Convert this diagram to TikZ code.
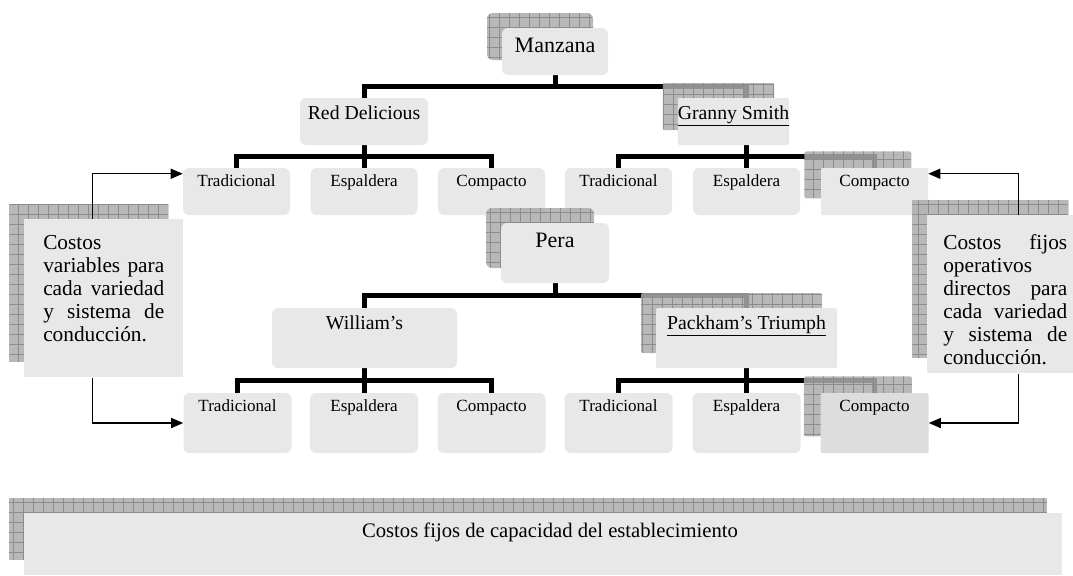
\documentclass[tikz,border=0pt]{standalone}
\usepackage{fontspec}
\setmainfont{Liberation Serif}
\usetikzlibrary{positioning, calc, shadows, arrows.meta, backgrounds}

\definecolor{boxfill}{RGB}{232,232,232}
\definecolor{boxdark}{RGB}{221,221,221}
\definecolor{shadefill}{RGB}{172,172,172}
\definecolor{shadegrid}{RGB}{140,140,140}

\begin{document}
\begin{tikzpicture}[x=0.75pt, y=-0.75pt,
	box/.style={rectangle, rounded corners=4.5pt, fill=boxfill, inner sep=0pt},
	dropshade/.style={general shadow={shadow xshift=-#1, shadow yshift=#1, fill=shadefill, fill opacity=0.85,
		path picture={\draw[shadegrid, line width=0.5pt, step=7.5pt] (path picture bounding box.south west) grid (path picture bounding box.north east);}}},
	dropshade/.default=11.25pt,
	fruit/.style={box, text height=18pt, font=\fontsize{16.5}{19}\selectfont},
	variety/.style={box, text height=15.75pt, font=\fontsize{14.8}{17}\selectfont},
	leaf/.style={box, minimum width=80.25pt, text height=13.5pt, text depth=21.75pt, font=\fontsize{12.8}{15}\selectfont},
	tallleaf/.style={leaf, minimum width=81pt, text depth=31.5pt},
	costos/.style={rectangle, fill=boxfill, dropshade, inner sep=0pt, align=left, anchor=north west, font=\fontsize{16}{17.25}\selectfont},
	tree/.style={line width=3.75pt},
	arr/.style={-{Triangle[length=9pt, width=7.5pt]}, line width=1.1pt}]
	\useasboundingbox (0,0) rectangle (1073,575);

	% Manzana
	\node[fruit, dropshade, minimum width=79.5pt, text depth=17.25pt] (manzana) at (555,51.5) {Manzana};
	\node[variety, minimum width=96pt, text depth=19.5pt] (reddel) at (364,121.5) {Red Delicious};
	\node[variety, dropshade, rounded corners=1pt, minimum width=72.75pt, text depth=19.5pt] (granny) at (733.5,121.5) {\underline{Granny Smith}};
	\node[leaf] (trad1) at (236.5,191.5) {Tradicional};
	\node[leaf] (esp1) at (364,191.5) {Espaldera};
	\node[leaf] (comp1) at (491.5,191.5) {Compacto};
	\node[leaf] (trad1b) at (618.5,191.5) {Tradicional};
	\node[leaf] (esp1b) at (746.5,191.5) {Espaldera};
	\node[leaf, dropshade=12.4pt, rounded corners=1pt] (comp1b) at (874.5,191.5) {Compacto};

	% Pera
	\node[fruit, dropshade, minimum width=81pt, text depth=27pt] (pera) at (555,253) {Pera};
	\node[variety, minimum width=138.75pt, text depth=29.25pt] (william) at (364.5,338) {William’s};
	\node[variety, dropshade, rounded corners=1pt, minimum width=135.75pt, text depth=29.25pt] (packham) at (746.5,338) {\underline{Packham’s Triumph}};
	\node[tallleaf] (trad2) at (237.5,423) {Tradicional};
	\node[tallleaf] (esp2) at (364,423) {Espaldera};
	\node[tallleaf] (comp2) at (491.5,423) {Compacto};
	\node[tallleaf] (trad2b) at (618.5,423) {Tradicional};
	\node[tallleaf] (esp2b) at (746.5,423) {Espaldera};
	\node[tallleaf, fill=boxdark, dropshade=12.4pt, rounded corners=1pt] (comp2b) at (874.5,423) {Compacto};

	% costos
	\node[costos, inner xsep=14.25pt, text width=90.75pt, text height=22.5pt, text depth=96pt] (costosvar) at (24,219)
		{Costos\\ variables \hfill para\\ cada \hfill variedad\\ y \hfill sistema \hfill de\\ conducción.};
	\node[costos, inner xsep=12pt, text width=93pt, text height=25.5pt, text depth=93pt] (costosfijos) at (927,215)
		{Costos \hfill fijos\\ operativos\\ directos \hfill para\\ cada \hfill variedad\\ y \hfill sistema \hfill de\\ conducción.};
	\node[rectangle, fill=boxfill, dropshade, inner sep=0pt, minimum width=778.5pt, text height=18pt, text depth=28.5pt,
		font=\fontsize{15.5}{17}\selectfont] (capacidad) at (543,544) {\hspace*{10.5pt}Costos fijos de capacidad del establecimiento};

	\begin{scope}[on background layer]
		\foreach \kid/\col in {reddel/esp1, granny/esp1b}
			\draw[tree] (manzana.south) -- ++(0,11.5) -| (\kid.north -| \col.north);
		\foreach \leaf in {trad1, esp1, comp1}
			\draw[tree] (reddel.south) -- ++(0,11) -| (\leaf.north);
		\foreach \leaf in {trad1b, esp1b, comp1b}
			\draw[tree] (granny.south -| esp1b.north) -- ++(0,11) -| (\leaf.north);
		\foreach \kid in {william, packham}
			\draw[tree] (pera.south) -- ++(0,12.5) -| (\kid.north);
		\foreach \leaf in {trad2, esp2, comp2}
			\draw[tree] (william.south) -- ++(0,12) -| (\leaf.north);
		\foreach \leaf in {trad2b, esp2b, comp2b}
			\draw[tree] (packham.south) -- ++(0,12) -| (\leaf.north);
	\end{scope}

	\draw[arr] ([xshift=-8.6pt]costosvar.north) |- ([yshift=-4.5pt]trad1.north west);
	\draw[arr] ([xshift=-8.6pt]costosvar.south) |- (trad2.west);
	\draw[arr] ([xshift=9.75pt]costosfijos.north) |- ([yshift=-4.5pt]comp1b.north east);
	\draw[arr] ([xshift=9.75pt]costosfijos.south) |- (comp2b.east);
\end{tikzpicture}
\end{document}
